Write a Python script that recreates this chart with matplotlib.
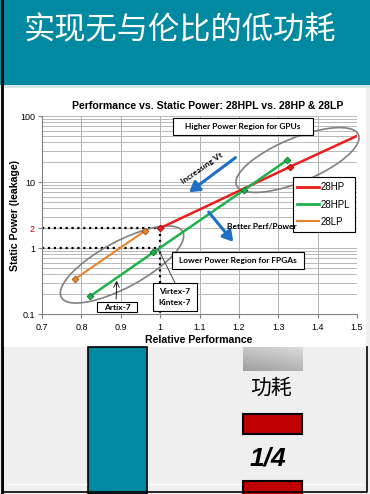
import numpy as np
import matplotlib
matplotlib.use("Agg")
import matplotlib.pyplot as plt
from matplotlib.patches import Rectangle, Ellipse
from matplotlib.lines import Line2D
from matplotlib.ticker import LogLocator

# ---------------- data ----------------
hp_x = [1.0, 1.33, 1.5]
hp_y = [2.0, 17.0, 50.0]
hpl_x = [0.823, 0.983, 1.212, 1.323]
hpl_y = [0.187, 0.86, 7.5, 21.5]
lp_x = [0.785, 0.961]
lp_y = [0.343, 1.81]
series_names = ["28HP", "28HPL", "28LP"]
x_ticks = [0.7, 0.8, 0.9, 1.0, 1.1, 1.2, 1.3, 1.4, 1.5]
x_tick_labels = ["0.7", "0.8", "0.9", "1", "1.1", "1.2", "1.3", "1.4", "1.5"]
y_ticks = [0.1, 1, 2, 10, 100]
y_tick_labels = ["0.1", "1", "2", "10", "100"]
banner_title = "实现无与伦比的低功耗"
chart_title = "Performance vs. Static Power: 28HPL vs. 28HP & 28LP"
power_label = "功耗"
ratio_label = "1/4"

W, H = 370, 494
TEAL = "#0089A0"
BLUE = "#1F6FC4"
RED = "#EE1C1C"
GREEN = "#1DB24A"
ORANGE = "#E8832A"

fig = plt.figure(figsize=(W / 100, H / 100), dpi=100, facecolor="#efefef")

# background axes in pixel coords (origin top-left)
bg = fig.add_axes([0, 0, 1, 1], zorder=0)
bg.set_xlim(0, W)
bg.set_ylim(H, 0)
bg.axis("off")

bg.add_patch(Rectangle((0, 0), W, 85, color=TEAL, lw=0))
bg.add_patch(Rectangle((0, 85), W, 3, color="#d8e6e8", lw=0))
bg.add_patch(Rectangle((4, 88), 362, 259, color="white", lw=0))
bg.text(180, 30, banner_title, color="white", fontsize=22.5,
        family=["Noto Sans CJK SC", "DejaVu Sans"], ha="center", va="center")

# bottom decoration
bg.add_patch(Rectangle((88, 347), 59, H - 347, facecolor=TEAL, edgecolor="black", lw=1.2))
gx = np.linspace(0, 1, 60)[None, :]
gy = np.linspace(0, 1, 30)[:, None]
grad = 0.78 + 0.08 * gx - 0.16 * gy
bg.imshow(grad, cmap="gray", vmin=0, vmax=1, extent=(243, 303, 371, 347),
          aspect="auto", zorder=1)
bg.text(271, 388, power_label, fontsize=15, family=["Noto Sans CJK SC", "DejaVu Sans"],
        ha="center", va="center", color="black")
bg.add_patch(Rectangle((243, 414), 59, 20, facecolor="#C00000", edgecolor="black", lw=1.5))
bg.text(268, 458, ratio_label, fontsize=19, family="Liberation Sans", weight="bold",
        style="italic", ha="center", va="center")
bg.add_patch(Rectangle((243, 481), 59, 20, facecolor="#C00000", edgecolor="black", lw=1.5))
bg.plot([8, 86], [484, 484], color="white", lw=1)
bg.plot([149, 241], [484, 484], color="white", lw=1)
bg.plot([305, 362], [484, 484], color="white", lw=1)
# borders
bg.plot([1.5, 1.5], [0, H], color="black", lw=2)
bg.plot([3, 3, 367, 367], [347, 492, 492, 347], color="black", lw=1.2)

# texts of chart in pixel positions
bg.text(208, 106, chart_title, fontsize=7.6, weight="bold", family="Liberation Sans",
        ha="center", va="center")
bg.text(15, 215, "Static Power (leakage)", fontsize=7.6, weight="bold",
        family="Liberation Sans", rotation=90, ha="center", va="center")
bg.text(199, 340, "Relative Performance", fontsize=7.6, weight="bold",
        family="Liberation Sans", ha="center", va="center")

# ---------------- chart axes ----------------
ax = fig.add_axes([42 / W, 1 - 314 / H, (357 - 42) / W, (314 - 116) / H], zorder=1)
ax.set_facecolor("none")
ax.set_yscale("log")
ax.set_xlim(0.7, 1.5)
ax.set_ylim(0.1, 100)
ax.set_xticks(x_ticks)
ax.set_xticklabels(x_tick_labels)
ax.set_yticks(y_ticks)
ax.set_yticklabels(y_tick_labels)
ax.yaxis.set_minor_locator(LogLocator(base=10, subs=np.arange(2, 10)))
ax.tick_params(axis="y", which="minor", length=0)
for lab in ax.get_yticklabels():
    if lab.get_text() == "2":
        lab.set_color("#d00000")
ax.tick_params(axis="both", which="major", labelsize=6.5, length=3, color="#808080",
               pad=2)
for lab in ax.get_xticklabels() + ax.get_yticklabels():
    lab.set_family("Liberation Sans")
ax.tick_params(axis="x", pad=3.5)
ax.grid(True, which="major", axis="x", color="#b0b0b0", lw=0.7)
ax.grid(True, which="both", axis="y", color="#b8b8b8", lw=0.7)
ax.set_axisbelow(True)
for s in ["top", "right"]:
    ax.spines[s].set_visible(False)
for s in ["left", "bottom"]:
    ax.spines[s].set_color("#808080")
    ax.spines[s].set_linewidth(0.8)

# dotted reference lines
ax.plot([0.7, hp_x[0]], [hp_y[0], hp_y[0]], ls=":", color="black", lw=1.6, zorder=2)
ax.plot([0.7, hp_x[0]], [1, 1], ls=":", color="black", lw=1.6, zorder=2)
ax.plot([hp_x[0], hp_x[0]], [hp_y[0], 0.1], ls=":", color="black", lw=1.6, zorder=2)

# ellipses in pixel coords
ax.add_patch(Ellipse((297.5, 160), 132, 44, angle=-22.5, transform=bg.transData,
                     fill=False, edgecolor="#808080", lw=1.2, clip_on=False, zorder=3))
ax.add_patch(Ellipse((122, 264.5), 138, 46, angle=-28.4, transform=bg.transData,
                     fill=False, edgecolor="#808080", lw=1.2, clip_on=False, zorder=3))

# series
ax.plot(hp_x, hp_y, color=RED, lw=1.8, marker="D", ms=3.5, markevery=[0, 1],
        mfc=RED, mec="#900000", mew=0.5, zorder=5, label=series_names[0])
ax.plot(hpl_x, hpl_y, color=GREEN, lw=1.8, marker="D", ms=3.5,
        mfc=GREEN, mec="#0a6020", mew=0.5, zorder=5, label=series_names[1])
ax.plot(lp_x, lp_y, color=ORANGE, lw=1.5, marker="D", ms=3.5,
        mfc=ORANGE, mec="#905010", mew=0.5, zorder=5, label=series_names[2])

leg_handles = [Line2D([], [], color=RED, lw=2), Line2D([], [], color=GREEN, lw=2),
               Line2D([], [], color=ORANGE, lw=1.5)]
leg = ax.legend(leg_handles, series_names, loc="upper right", bbox_to_anchor=(0.994, 0.69),
                fancybox=False, edgecolor="black", framealpha=1,
                handlelength=2.2, handletextpad=0.2, borderpad=0.5, labelspacing=0.75,
                borderaxespad=0, prop={"family": "Liberation Sans", "size": 7})
leg.get_frame().set_linewidth(0.8)
leg.set_zorder(6)

# boxes with labels (data coords)
box_kw = dict(facecolor="white", edgecolor="black", lw=0.8, zorder=6, clip_on=False)
txt_kw = dict(fontsize=6, weight="bold", family="Lato", ha="center", va="center", zorder=7)
ax.add_patch(Rectangle((1.0325, 51.5), 1.3878 - 1.0325, 93.3 - 51.5, **box_kw))
ax.text(1.21, 69, "Higher Power Region for GPUs", **txt_kw)
ax.add_patch(Rectangle((1.030, 0.481), 1.365 - 1.030, 0.869 - 0.481, **box_kw))
ax.text(1.197, 0.645, "Lower Power Region for FPGAs", **txt_kw)
ax.add_patch(Rectangle((0.982, 0.111), 1.093 - 0.982, 0.295 - 0.111, **box_kw))
ax.text(1.0375, 0.181, "Virtex-7\nKintex-7", linespacing=1.6, **txt_kw)
ax.add_patch(Rectangle((0.840, 0.107), 0.941 - 0.840, 0.152 - 0.107, **box_kw))
ax.text(0.8905, 0.1275, "Artix-7", **txt_kw)

# pointers
ax.annotate("", xy=(0.89, 0.35), xytext=(0.888, 0.152),
            arrowprops=dict(arrowstyle="->", color="black", lw=0.6), zorder=6)
ax.plot([0.995, 1.038], [0.97, 0.295], color="#404040", lw=0.7, zorder=6)

# blue arrows
ax.annotate("", xy=(1.068, 6.6), xytext=(1.197, 24.8),
            arrowprops=dict(arrowstyle="-|>,head_length=0.5,head_width=0.3", color=BLUE,
                            lw=2.2, mutation_scale=12), zorder=6)
ax.annotate("", xy=(1.19, 1.15), xytext=(1.119, 3.77),
            arrowprops=dict(arrowstyle="-|>,head_length=0.5,head_width=0.3", color=BLUE,
                            lw=2.2, mutation_scale=12), zorder=6)
ax.text(1.107, 16.3, "Increasing Vt", fontsize=6, weight="bold", family="Lato",
        rotation=35, ha="center", va="center", zorder=7)
ax.text(1.17, 2.15, "Better Perf/Power", fontsize=6, weight="bold", family="Lato",
        ha="left", va="center", zorder=7)

fig.savefig("out.png", dpi=100, facecolor=fig.get_facecolor())
